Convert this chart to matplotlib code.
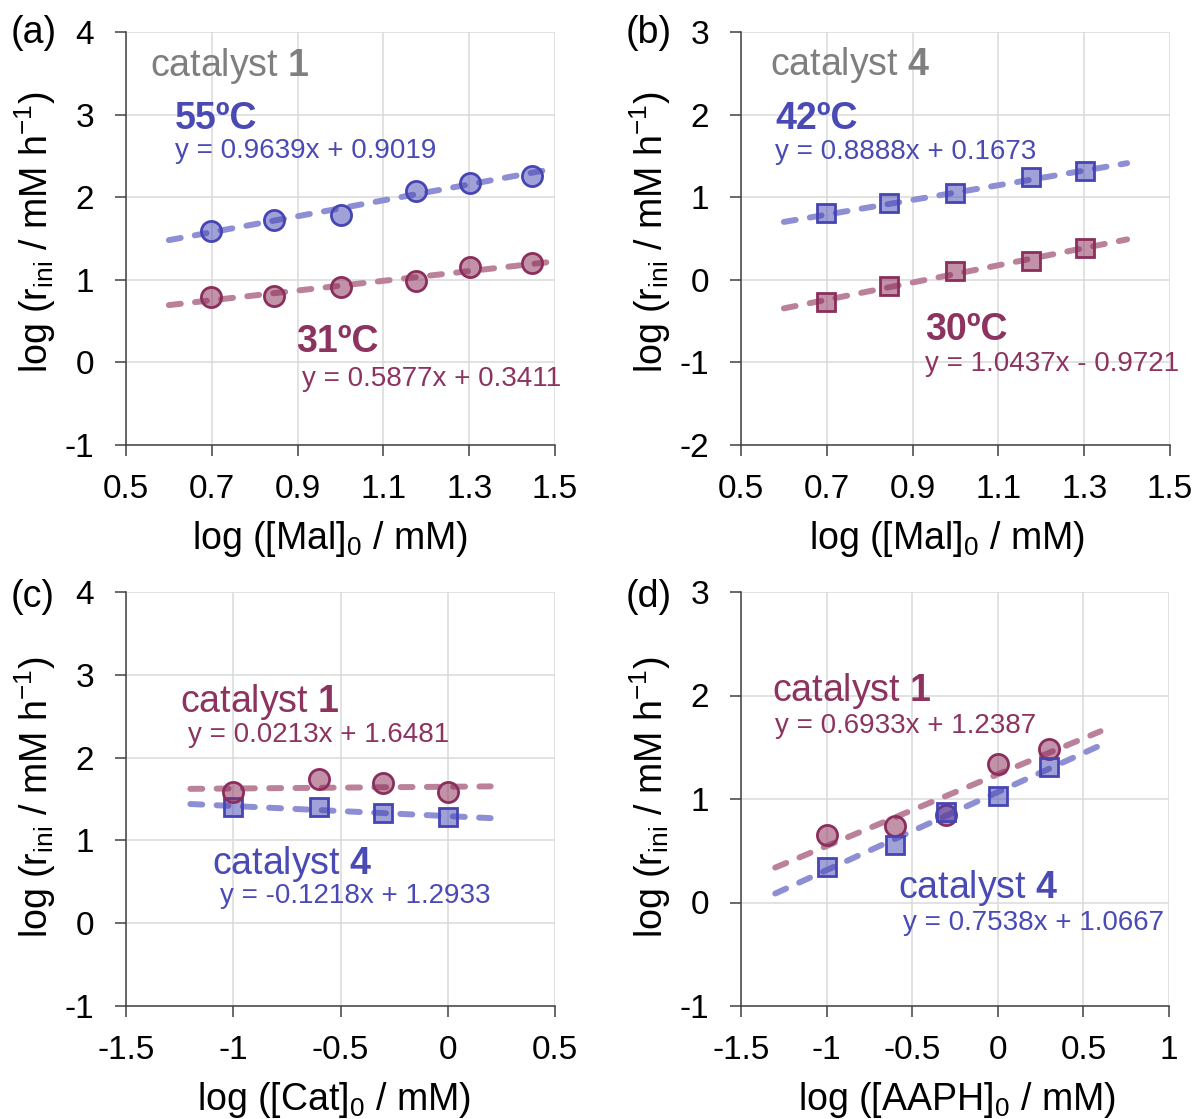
import matplotlib
matplotlib.use("Agg")
import matplotlib.pyplot as plt
import numpy as np

plt.rcParams['font.family'] = ['Liberation Sans', 'DejaVu Sans']
plt.rcParams['mathtext.fontset'] = 'custom'
plt.rcParams['mathtext.rm'] = 'Liberation Sans'
plt.rcParams['mathtext.bf'] = 'Liberation Sans:bold'
plt.rcParams['mathtext.it'] = 'Liberation Sans:italic'
plt.rcParams['axes.unicode_minus'] = False

# ---------------- data ----------------
# (a) catalyst 1, varying [Mal]0
a_x = [0.699, 0.845, 1.0, 1.176, 1.301, 1.447]
a_55C = [1.59, 1.73, 1.78, 2.08, 2.17, 2.26]
a_31C = [0.79, 0.80, 0.91, 0.99, 1.15, 1.20]
a_fit_55 = (0.9639, 0.9019)
a_fit_31 = (0.5877, 0.3411)
a_fit_range = (0.6, 1.5)

# (b) catalyst 4, varying [Mal]0
b_x = [0.699, 0.845, 1.0, 1.176, 1.301]
b_42C = [0.81, 0.93, 1.05, 1.24, 1.32]
b_30C = [-0.27, -0.07, 0.11, 0.23, 0.39]
b_fit_42 = (0.8888, 0.1673)
b_fit_30 = (1.0437, -0.9721)
b_fit_range = (0.6, 1.4)

# (c) varying [Cat]0
c_x = [-1.0, -0.6, -0.3, 0.0]
c_cat1 = [1.58, 1.74, 1.69, 1.59]
c_cat4 = [1.40, 1.40, 1.33, 1.28]
c_fit_1 = (0.0213, 1.6481)
c_fit_4 = (-0.1218, 1.2933)
c_fit_range = (-1.2, 0.2)

# (d) varying [AAPH]0
d_x = [-1.0, -0.6, -0.3, 0.0, 0.3]
d_cat1 = [0.65, 0.74, 0.85, 1.34, 1.48]
d_cat4 = [0.34, 0.56, 0.87, 1.03, 1.31]
d_fit_1 = (0.6933, 1.2387)
d_fit_4 = (0.7538, 1.0667)
d_fit_range = (-1.3, 0.6)

ab_xticks = [0.5, 0.7, 0.9, 1.1, 1.3, 1.5]
ab_xticklabels = ['0.5', '0.7', '0.9', '1.1', '1.3', '1.5']
c_xticks = [-1.5, -1.0, -0.5, 0.0, 0.5]
c_xticklabels = ['-1.5', '-1', '-0.5', '0', '0.5']
d_xticks = [-1.5, -1.0, -0.5, 0.0, 0.5, 1.0]
d_xticklabels = ['-1.5', '-1', '-0.5', '0', '0.5', '1']
a_yticks = [-1, 0, 1, 2, 3, 4]
b_yticks = [-2, -1, 0, 1, 2, 3]
c_yticks = [-1, 0, 1, 2, 3, 4]
d_yticks = [-1, 0, 1, 2, 3]

# ---------------- styles ----------------
BLUE_EDGE = '#4545B4'
BLUE_FACE = (0.27, 0.27, 0.71, 0.50)
BLUE_LINE = '#8E8ED5'
BLUE_TXT = '#4A4AB5'
MAG_EDGE = '#8B2E5B'
MAG_FACE = (0.545, 0.18, 0.357, 0.52)
MAG_LINE = '#BB819B'
MAG_TXT = '#8C3360'
GRAY_TXT = '#7F7F7F'
SPINE = '#404040'

W, H = 1192, 1119
fig = plt.figure(figsize=(W / 100, H / 100), dpi=100)


def make_ax(left, top, right, bottom):
    return fig.add_axes([left / W, 1 - bottom / H, (right - left) / W, (bottom - top) / H])


ylab = 'log (r$_{\\rm ini}$ / mM h$^{\\mathregular{\u2212}1}$)'


def style(ax, xlim, ylim, xticks, xticklabels, yticks, xlabel, xlab_x, ylab_y):
    ax.set_xlim(*xlim)
    ax.set_ylim(*ylim)
    ax.set_xticks(xticks)
    ax.set_xticklabels(xticklabels)
    ax.set_yticks(yticks)
    ax.grid(True, color='#DADADA', linewidth=1.1, zorder=0)
    ax.set_axisbelow(True)
    for s in ['top', 'right']:
        ax.spines[s].set_visible(False)
    for s in ['left', 'bottom']:
        ax.spines[s].set_color(SPINE)
        ax.spines[s].set_linewidth(1.1)
    ax.tick_params(axis='both', direction='out', length=8, width=1.1, color=SPINE,
                   labelsize=24, labelcolor='black')
    ax.tick_params(axis='y', pad=15)
    ax.tick_params(axis='x', pad=13)
    ax.set_xlabel(xlabel, fontsize=27)
    ax.set_ylabel(ylab, fontsize=27)
    ax.xaxis.set_label_coords(xlab_x, -0.178)
    ax.xaxis.label.set_va('top')
    ax.yaxis.set_label_coords(-0.159, ylab_y)


def fit_line(ax, fit, rng, color):
    xs = np.array(rng)
    ax.plot(xs, fit[0] * xs + fit[1], color=color, linewidth=4.3,
            dashes=(2.0, 2.4), dash_capstyle='round', solid_capstyle='round', zorder=2)


def points(ax, x, y, marker, edge, face, ms):
    ax.plot(x, y, linestyle='none', marker=marker, markersize=ms,
            markeredgecolor=edge, markerfacecolor=face, markeredgewidth=2.0, zorder=3)


CIRC = 14.5
SQ = 13.5

# (a)
ax = make_ax(126, 32, 555, 445)
style(ax, (0.5, 1.5), (-1, 4), ab_xticks, ab_xticklabels, a_yticks,
      r'log ([Mal]$_{\rm 0}$ / mM)', 0.476, 0.516)
fit_line(ax, a_fit_55, a_fit_range, BLUE_LINE)
fit_line(ax, a_fit_31, a_fit_range, MAG_LINE)
points(ax, a_x, a_55C, 'o', BLUE_EDGE, BLUE_FACE, CIRC)
points(ax, a_x, a_31C, 'o', MAG_EDGE, MAG_FACE, CIRC)
ax.text(0.556, 3.47, r'catalyst $\mathbf{1}$', color=GRAY_TXT, fontsize=27)
ax.text(0.614, 2.83, '55ºC', color=BLUE_TXT, fontsize=27, fontweight='bold')
ax.text(0.614, 2.48, 'y = 0.9639x + 0.9019', color=BLUE_TXT, fontsize=20)
ax.text(0.896, 0.12, '31ºC', color=MAG_TXT, fontsize=27, fontweight='bold')
ax.text(0.91, -0.29, 'y = 0.5877x + 0.3411', color=MAG_TXT, fontsize=20)

# (b)
ax = make_ax(741, 32, 1170, 445)
style(ax, (0.5, 1.5), (-2, 3), ab_xticks, ab_xticklabels, b_yticks,
      r'log ([Mal]$_{\rm 0}$ / mM)', 0.48, 0.516)
fit_line(ax, b_fit_42, b_fit_range, BLUE_LINE)
fit_line(ax, b_fit_30, b_fit_range, MAG_LINE)
points(ax, b_x, b_42C, 's', BLUE_EDGE, BLUE_FACE, SQ)
points(ax, b_x, b_30C, 's', MAG_EDGE, MAG_FACE, SQ)
ax.text(0.568, 2.48, r'catalyst $\mathbf{4}$', color=GRAY_TXT, fontsize=27)
ax.text(0.579, 1.83, '42ºC', color=BLUE_TXT, fontsize=27, fontweight='bold')
ax.text(0.579, 1.46, 'y = 0.8888x + 0.1673', color=BLUE_TXT, fontsize=20)
ax.text(0.929, -0.73, '30ºC', color=MAG_TXT, fontsize=27, fontweight='bold')
ax.text(0.929, -1.11, 'y = 1.0437x - 0.9721', color=MAG_TXT, fontsize=20)

# (c)
ax = make_ax(126, 592, 555, 1006)
style(ax, (-1.5, 0.5), (-1, 4), c_xticks, c_xticklabels, c_yticks,
      r'log ([Cat]$_{\rm 0}$ / mM)', 0.485, 0.505)
fit_line(ax, c_fit_1, c_fit_range, MAG_LINE)
fit_line(ax, c_fit_4, c_fit_range, BLUE_LINE)
points(ax, c_x, c_cat4, 's', BLUE_EDGE, BLUE_FACE, SQ)
points(ax, c_x, c_cat1, 'o', MAG_EDGE, MAG_FACE, CIRC)
ax.text(-1.248, 2.55, r'catalyst $\mathbf{1}$', color=MAG_TXT, fontsize=27)
ax.text(-1.211, 2.19, 'y = 0.0213x + 1.6481', color=MAG_TXT, fontsize=20)
ax.text(-1.099, 0.60, r'catalyst $\mathbf{4}$', color=BLUE_TXT, fontsize=27)
ax.text(-1.062, 0.24, 'y = -0.1218x + 1.2933', color=BLUE_TXT, fontsize=20)

# (d)
ax = make_ax(741, 592, 1169, 1006)
style(ax, (-1.5, 1.0), (-1, 3), d_xticks, d_xticklabels, d_yticks,
      r'log ([AAPH]$_{\rm 0}$ / mM)', 0.505, 0.505)
fit_line(ax, d_fit_1, d_fit_range, MAG_LINE)
fit_line(ax, d_fit_4, d_fit_range, BLUE_LINE)
points(ax, d_x, d_cat1, 'o', MAG_EDGE, MAG_FACE, CIRC)
points(ax, d_x, d_cat4, 's', BLUE_EDGE, BLUE_FACE, SQ)
ax.text(-1.319, 1.95, r'catalyst $\mathbf{1}$', color=MAG_TXT, fontsize=27)
ax.text(-1.30, 1.64, 'y = 0.6933x + 1.2387', color=MAG_TXT, fontsize=20)
ax.text(-0.583, 0.04, r'catalyst $\mathbf{4}$', color=BLUE_TXT, fontsize=27)
ax.text(-0.554, -0.27, 'y = 0.7538x + 1.0667', color=BLUE_TXT, fontsize=20)

# panel labels
for lab, px, py in [('(a)', 11, 43), ('(b)', 626, 43), ('(c)', 11, 607), ('(d)', 626, 607)]:
    fig.text(px / W, 1 - py / H, lab, fontsize=27, ha='left', va='baseline')

fig.savefig('out.png', dpi=100)
